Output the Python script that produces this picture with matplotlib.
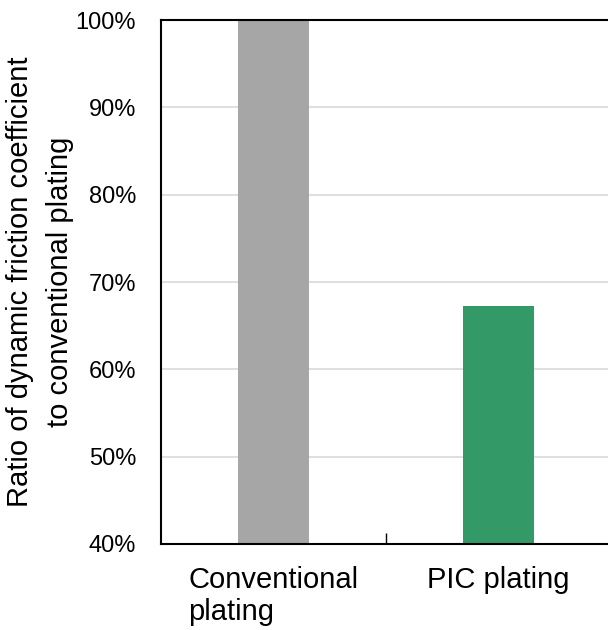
import matplotlib
matplotlib.use("Agg")
import matplotlib.pyplot as plt
from matplotlib.ticker import FixedLocator

categories = ["Conventional\nplating", "PIC plating"]
values = [100.0, 67.2]
colors = ["#a6a6a6", "#339966"]
yticks = [40, 50, 60, 70, 80, 90, 100]
ytick_labels = ["40%", "50%", "60%", "70%", "80%", "90%", "100%"]

plt.rcParams["font.family"] = ["Liberation Sans", "DejaVu Sans"]

fig = plt.figure(figsize=(6.08, 6.30), dpi=100)
ax = fig.add_axes([161 / 608, 1 - 544 / 630, 1 - 161 / 608, (544 - 20) / 630])

x = list(range(len(categories)))
ax.bar(x, values, width=0.316, color=colors, zorder=2)

ax.set_ylim(40, 100)
ax.set_xlim(-0.5, 1.5 - 3 / 225)
ax.set_yticks(yticks)
ax.set_yticklabels(ytick_labels, fontsize=17)
ax.yaxis.grid(True, color="#d9d9d9", linewidth=1.2, zorder=0)
ax.tick_params(axis="y", length=0, pad=18)

ax.set_xticks(x)
ax.set_xticklabels(categories, fontsize=21, multialignment="left", linespacing=1.15)
ax.tick_params(axis="x", length=0, pad=16)
ax.xaxis.set_minor_locator(FixedLocator([0.5]))
ax.tick_params(axis="x", which="minor", direction="in", length=8, width=1, color="black")

for side in ["left", "bottom", "top"]:
    ax.spines[side].set_color("black")
    ax.spines[side].set_linewidth(1.5)
ax.spines["right"].set_visible(False)

ax.set_ylabel("Ratio of dynamic friction coefficient\nto conventional plating",
              fontsize=21, labelpad=1, linespacing=1.55)

fig.savefig("out.png", dpi=100)
